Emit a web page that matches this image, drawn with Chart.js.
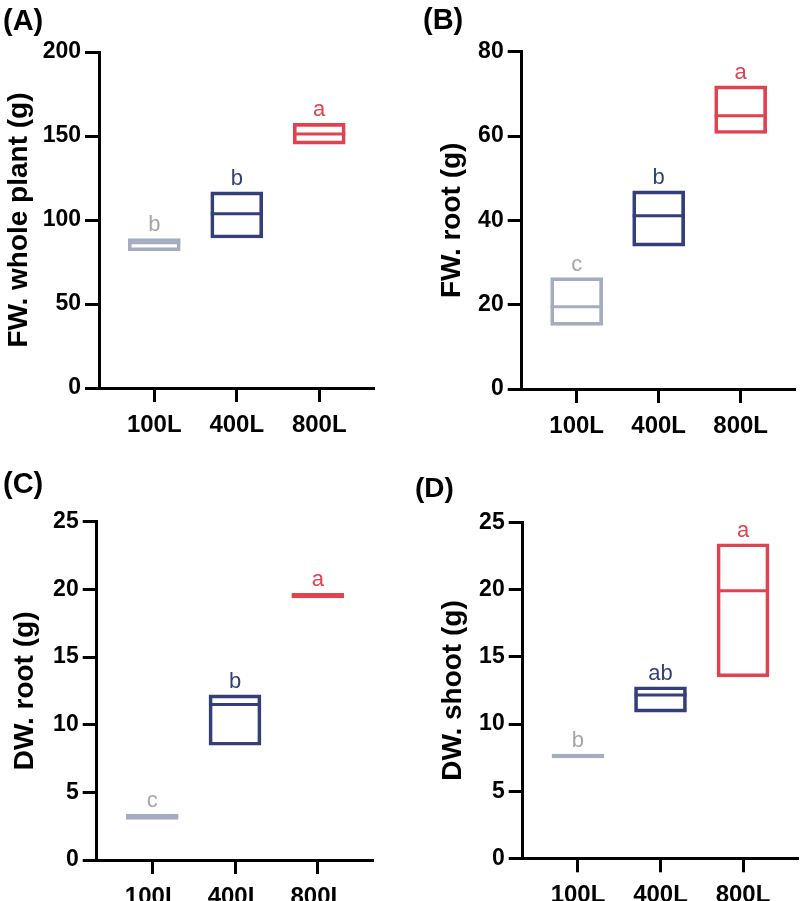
<!DOCTYPE html>
<html>
<head>
<meta charset="utf-8">
<script src="https://cdn.jsdelivr.net/npm/chart.js@4.4.1/dist/chart.umd.min.js"></script>
<style>
  html, body { margin: 0; padding: 0; background: #ffffff; }
  #wrap { position: relative; width: 800px; height: 901px; overflow: hidden; }
  .panel { position: absolute; width: 400px; }
</style>
</head>
<body>
<div id="wrap">
  <div class="panel" style="left:0;top:0"><canvas id="cA" width="400" height="450"></canvas></div>
  <div class="panel" style="left:400px;top:0"><canvas id="cB" width="400" height="450"></canvas></div>
  <div class="panel" style="left:0;top:450px"><canvas id="cC" width="400" height="462"></canvas></div>
  <div class="panel" style="left:400px;top:450px"><canvas id="cD" width="400" height="462"></canvas></div>
</div>
<script>
// ---------- DATA ----------
const categories = ['100L', '400L', '800L'];

// (A) FW. whole plant (g)
const A_min = [81.7, 89.3, 145.2];
const A_max = [89.0, 116.7, 157.5];
const A_med = [86.5, 103.7, 151.2];
const A_sig = ['b', 'b', 'a'];
const A_ticks = [0, 50, 100, 150, 200];

// (B) FW. root (g)
const B_min = [15.1, 33.9, 60.6];
const B_max = [26.4, 47.0, 71.9];
const B_med = [19.5, 41.1, 64.8];
const B_sig = ['c', 'b', 'a'];
const B_ticks = [0, 20, 40, 60, 80];

// (C) DW. root (g)
const C_min = [3.0, 8.48, 19.36];
const C_max = [3.38, 12.2, 19.71];
const C_med = [3.2, 11.5, 19.5];
const C_sig = ['c', 'b', 'a'];
const C_ticks = [0, 5, 10, 15, 20, 25];

// (D) DW. shoot (g)
const D_min = [7.47, 10.89, 13.52];
const D_max = [7.77, 12.78, 23.43];
const D_med = [7.62, 12.16, 19.93];
const D_sig = ['b', 'ab', 'a'];
const D_ticks = [0, 5, 10, 15, 20, 25];

// ---------- STYLE ----------
const boxColors = ['#A5ACC0', '#343E7B', '#E0424F'];
const sigColors = ['#A6A6A6', '#343E7B', '#E0424F'];
const FONT = "'Liberation Sans', Arial, Helvetica, sans-serif";

const panels = [
  { id: 'cA', label: '(A)', title: 'FW. whole plant (g)', min: A_min, max: A_max, med: A_med, sig: A_sig, ticks: A_ticks,
    padLeft: 0, yW: 99, top: 52, bottom: 388, H: 450, xH: 55, padRight: 25.5, titlePad: 2.2, lx: 3, ly: 30, lsize: 29 },
  { id: 'cB', label: '(B)', title: 'FW. root (g)', min: B_min, max: B_max, med: B_med, sig: B_sig, ticks: B_ticks,
    padLeft: 30, yW: 91.7, top: 51.7, bottom: 389, H: 450, xH: 55, padRight: 4.4, titlePad: 5.2, lx: 23, ly: 29, lsize: 29 },
  { id: 'cC', label: '(C)', title: 'DW. root (g)', min: C_min, max: C_max, med: C_med, sig: C_sig, ticks: C_ticks,
    padLeft: 0, yW: 96.7, top: 71.7, bottom: 410, H: 462, xH: 50, padRight: 26.7, titlePad: 8.7, lx: 3, ly: 43, lsize: 29 },
  { id: 'cD', label: '(D)', title: 'DW. shoot (g)', min: D_min, max: D_max, med: D_med, sig: D_sig, ticks: D_ticks,
    padLeft: 30, yW: 92.7, top: 72.7, bottom: 408.3, H: 462, xH: 50, padRight: 1.7, titlePad: 6.9, lx: 15, ly: 46.7, lsize: 28 }
];

const BW = 3;

function makeChart(p) {
  const overlay = {
    id: 'overlay_' + p.id,
    afterDatasetsDraw(chart) {
      const ctx = chart.ctx;
      const ys = chart.scales.y;
      const meta = chart.getDatasetMeta(0);
      ctx.save();
      meta.data.forEach((el, i) => {
        const half = el.width / 2;
        const ym = ys.getPixelForValue(p.med[i]);
        ctx.strokeStyle = boxColors[i];
        ctx.lineWidth = BW;
        ctx.lineCap = 'butt';
        ctx.beginPath();
        ctx.moveTo(el.x - half, ym);
        ctx.lineTo(el.x + half, ym);
        ctx.stroke();
        // significance letters
        const yt = ys.getPixelForValue(p.max[i]);
        ctx.fillStyle = sigColors[i];
        ctx.font = '22px ' + FONT;
        ctx.textAlign = 'center';
        ctx.textBaseline = 'alphabetic';
        ctx.fillText(p.sig[i], el.x, yt - 7);
      });
      // panel label
      ctx.fillStyle = '#000';
      ctx.font = 'bold ' + p.lsize + 'px ' + FONT;
      ctx.textAlign = 'left';
      ctx.textBaseline = 'alphabetic';
      ctx.fillText(p.label, p.lx, p.ly);
      ctx.restore();
    }
  };

  return new Chart(document.getElementById(p.id), {
    type: 'bar',
    data: {
      datasets: [{
        data: categories.map((c, i) => ({ x: i, y: [p.min[i], p.max[i]] })),
        borderColor: boxColors,
        backgroundColor: 'rgba(0,0,0,0)',
        borderWidth: BW,
        borderSkipped: false,
        barThickness: 52
      }]
    },
    options: {
      responsive: false,
      animation: false,
      layout: {
        padding: { left: p.padLeft, top: p.top, right: p.padRight, bottom: Math.max(0, p.H - p.bottom - p.xH) }
      },
      plugins: { legend: { display: false }, tooltip: { enabled: false }, title: { display: false } },
      scales: {
        x: {
          type: 'linear',
          min: -0.67,
          max: 2.67,
          offset: false,
          afterBuildTicks(scale) { scale.ticks = categories.map((c, i) => ({ value: i })); },
          afterFit(scale) { scale.height = p.xH; },
          ticks: {
            callback: (v) => categories[v],
            color: '#000',
            font: { family: FONT, size: 24, weight: 'bold' },
            padding: 9,
            maxRotation: 0,
            autoSkip: false
          },
          grid: { display: true, offset: false, drawOnChartArea: false, drawTicks: true, tickLength: 14, tickWidth: 3, tickColor: '#000' },
          border: { display: true, width: 3, color: '#000' }
        },
        y: {
          type: 'linear',
          min: p.ticks[0],
          max: p.ticks[p.ticks.length - 1],
          afterBuildTicks(scale) { scale.ticks = p.ticks.map(v => ({ value: v })); },
          afterFit(scale) { scale.width = p.yW; },
          ticks: {
            color: '#000',
            font: { family: FONT, size: 23, weight: 'bold' },
            padding: 4
          },
          grid: { display: true, drawOnChartArea: false, drawTicks: true, tickLength: 14, tickWidth: 3, tickColor: '#000' },
          border: { display: true, width: 3, color: '#000' },
          title: {
            display: true,
            text: p.title,
            color: '#000',
            font: { family: FONT, size: 28, weight: 'bold' },
            padding: { top: p.titlePad, bottom: 0 }
          }
        }
      }
    },
    plugins: [overlay]
  });
}

panels.forEach(makeChart);
</script>
</body>
</html>
